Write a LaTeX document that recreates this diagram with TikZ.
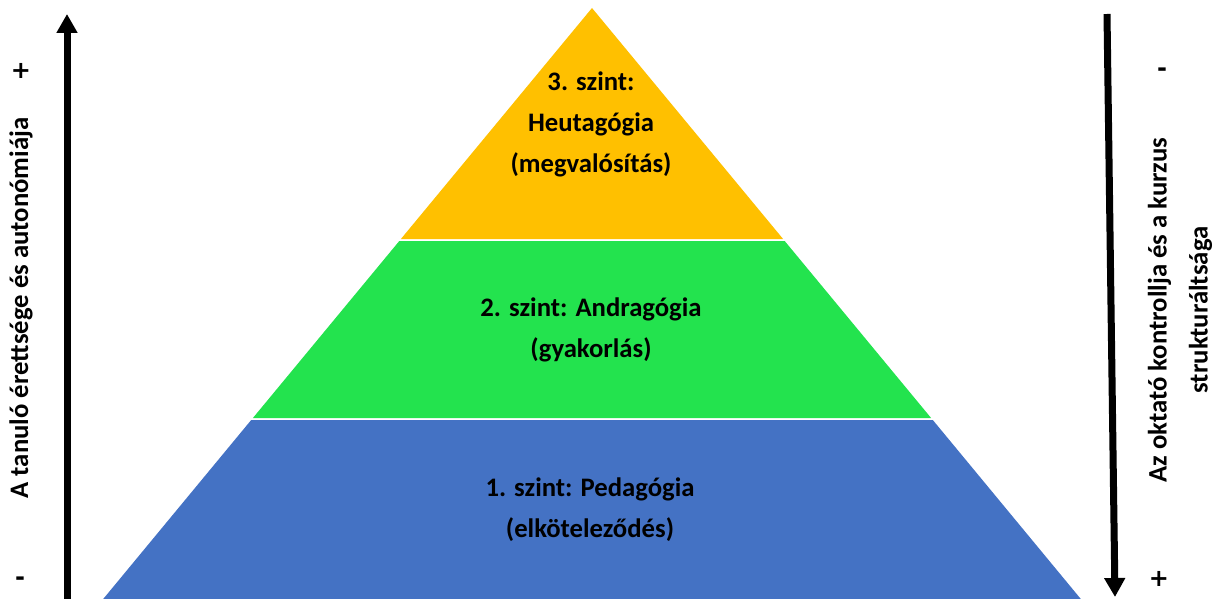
\documentclass[tikz,border=0pt]{standalone}
\usepackage{fontspec}
\setmainfont{Carlito}
\newfontfamily\signfont{DejaVu Sans}
\usetikzlibrary{arrows.meta}
\definecolor{lvlyellow}{HTML}{FFC000}
\definecolor{lvlgreen}{HTML}{23E34E}
\definecolor{lvlblue}{HTML}{4472C4}
\tikzset{
  lbl/.style={font=\fontsize{26.7}{41}\selectfont\bfseries, align=center, inner sep=0pt},
  sign/.style={font=\signfont\fontsize{24}{24}\selectfont\bfseries, inner sep=0pt},
  bigarrow/.style={line width=7pt, -{Triangle[width=20pt,length=19pt]}},
}
\begin{document}
\begin{tikzpicture}[x=1pt,y=-1pt]
\useasboundingbox (0,0) rectangle (1213,599);
% pyramid layers
\fill[lvlyellow] (592,8) -- (783.1,239) -- (400.9,239) -- cycle;
\fill[lvlgreen] (399.3,241) -- (784.7,241) -- (931.1,418) -- (252.9,418) -- cycle;
\fill[lvlblue] (251.2,420) -- (932.8,420) -- (1080.8,599) -- (103.2,599) -- cycle;
% texts in layers
\node[lbl] (t3) at (591,124) {3. szint:\\Heutagógia\\(megvalósítás)};
\node[lbl] (t2) at (591,330) {2. szint: Andragógia\\(gyakorlás)};
\node[lbl] (t1) at (590,510) {1. szint: Pedagógia\\(elköteleződés)};
% arrows
\coordinate (la) at (67,599);
\coordinate (lb) at (67,14);
\coordinate (ra) at (1107,14);
\coordinate (rb) at (1115,597);
\draw[bigarrow] (la) -- (lb);
\draw[bigarrow] (ra) -- (rb);
% side labels
\node[lbl, rotate=90] (ltext) at (21,308) {A tanuló érettsége és autonómiája};
\node[lbl, rotate=90] (rtext) at (1180,310) {Az oktató kontrollja és a kurzus\\strukturáltsága};
\node[sign] (lp) at (21,71) {+};
\node[sign] (lm) at (20,581) {-};
\node[sign] (rm) at (1162,72) {-};
\node[sign] (rp) at (1159,579) {+};
\end{tikzpicture}
\end{document}
